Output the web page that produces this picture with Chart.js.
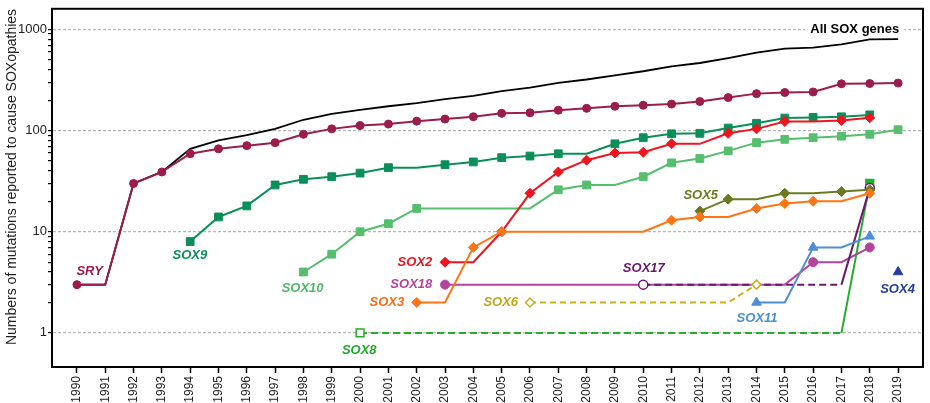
<!DOCTYPE html>
<html><head><meta charset="utf-8">
<script src="https://cdn.jsdelivr.net/npm/chart.js@4.4.1/dist/chart.umd.min.js"></script>
<style>html,body{margin:0;padding:0;background:#fff}#wrap{width:930px;height:403px}</style>
</head><body><div id="wrap"><canvas id="c" width="930" height="403"></canvas></div>
<script>
// ---- data ----
const years = [1990,1991,1992,1993,1994,1995,1996,1997,1998,1999,2000,2001,2002,2003,2004,2005,2006,2007,2008,2009,2010,2011,2012,2013,2014,2015,2016,2017,2018,2019];
const yMajorTicks = [1,10,100,1000];
const yMinorTicks = [2,3,4,5,6,7,8,9,20,30,40,50,60,70,80,90,200,300,400,500,600,700,800,900];
const yTitle = 'Numbers of mutations reported to cause SOXopathies';

const allSoxStart = 1990;
const allSox = [3,3,30,39,66,80,90,104,128,146,160,174,187,205,220,246,266,297,320,352,386,431,466,521,590,646,661,713,797,803];
const sryStart = 1990;
const sry = [3,3,30,39,59,66,71,76,92,104,112,116,124,130,137,148,150,159,166,174,178,183,194,212,232,238,241,290,292,295];
const sox9Start = 1994;
const sox9 = [8,14,18,29,33,35,38,43,43,46,49,54,56,59,59,74,85,93,94,106,118,133,135,137,143];
const sox10Start = 1998;
const sox10 = [4,6,10,12,17,17,17,17,17,26,29,29,35,48,53,63,76,82,85,88,92,102];
const sox2Start = 2003;
const sox2 = [5,5,10,24,39,51,60,61,74,74,94,104,123,123,126,134];
const sox3Start = 2002;
const sox3 = [2,2,7,10,10,10,10,10,10,13,14,14,17,19,20,20,24];
const sox5Start = 2012;
const sox5 = [16,21,21,24,24,25,26];
const sox18Start = 2003;
const sox18 = [3,3,3,3,3,3,3,3,3,3,3,3,3,5,5,7];
const sox17Start = 2010;
const sox17 = [3,3,3,3,3,3,3,3,27];
const sox6Start = 2006;
const sox6 = [2,2,2,2,2,2,2,2,3];
const sox8Start = 2000;
const sox8 = [1,1,1,1,1,1,1,1,1,1,1,1,1,1,1,1,1,1,30];
const sox11Start = 2014;
const sox11 = [2,2,7,7,9];
const sox4Start = 2019;
const sox4 = [4];

// ---- helpers ----
const FONT = "'Liberation Sans', Arial, sans-serif";
function pts(start, vals){ return vals.map((v,i)=>({x:start+i, y:v})); }
function changeRadius(r){
  return ctx => { const d = ctx.dataset.data; const i = ctx.dataIndex; return (i===0 || d[i].y !== d[i-1].y) ? r : 0; };
}
function series(label, start, vals, color, style, r, extra){
  return Object.assign({
    label, data: pts(start, vals), borderColor: color, backgroundColor: color,
    pointBackgroundColor: color, pointBorderColor: color,
    borderWidth: 2, pointStyle: style, pointRadius: changeRadius(r), pointBorderWidth: 1,
    tension: 0, fill: false
  }, extra || {});
}
function dashUntilLast(dash){
  return { borderDash: ctx => (ctx.p1DataIndex === ctx.chart.data.datasets[ctx.datasetIndex].data.length - 1) ? [] : dash };
}

const C = {
  all:'#000000', sry:'#9c1c4c', sox9:'#0b8f5a', sox10:'#55bf6e', sox2:'#f0141e', sox3:'#ff7415',
  sox5:'#6b7a20', sox18:'#b3449e', sox17:'#6b176f', sox6:'#c9b021', sox8:'#22b02a', sox11:'#4d8fd6', sox4:'#25409c'
};

const datasets = [
  series('SOX4', sox4Start, sox4, C.sox4, 'triangle', 5.5, {showLine:false}),
  series('SOX11', sox11Start, sox11, C.sox11, 'triangle', 5.5),
  series('SOX3', sox3Start, sox3, C.sox3, 'rectRot', 5),
  series('SOX5', sox5Start, sox5, C.sox5, 'rectRot', 5),
  series('SOX6', sox6Start, sox6, C.sox6, 'rectRot', 4.5, {borderDash:[6,4], pointBackgroundColor:'#fff', pointBorderWidth:1.5}),
  series('SOX17', sox17Start, sox17, C.sox17, 'circle', 4.5, {segment: dashUntilLast([7,4]), pointBackgroundColor:'#fff', pointBorderWidth:1.5}),
  series('SOX18', sox18Start, sox18, C.sox18, 'circle', 4.5),
  series('SOX8', sox8Start, sox8, C.sox8, 'rect', 5.5, {segment: dashUntilLast([7,4]), pointBackgroundColor: ctx => ctx.dataIndex===0 ? '#fff' : C.sox8, pointBorderWidth:1.5}),
  series('SOX2', sox2Start, sox2, C.sox2, 'rectRot', 5),
  series('SOX10', sox10Start, sox10, C.sox10, 'rect', 5.5),
  series('SOX9', sox9Start, sox9, C.sox9, 'rect', 5.5),
  series('SRY', sryStart, sry, C.sry, 'circle', 4),
  {label:'All SOX genes', data: pts(allSoxStart, allSox), borderColor:C.all, borderWidth:1.8, pointRadius:0, tension:0, fill:false}
];

// text labels anchored in data space
const seriesLabels = [
  {text:'SRY', x:1990.45, y:4.05, color:'#9c1c4c', align:'center'},
  {text:'SOX9', x:1993.99, y:5.8, color:'#0b8f5a', align:'center'},
  {text:'SOX10', x:1997.97, y:2.76, color:'#50b86a', align:'center'},
  {text:'SOX2', x:2002.55, y:4.98, color:'#e8141e', align:'right'},
  {text:'SOX18', x:2002.55, y:3.0, color:'#b3449e', align:'right'},
  {text:'SOX3', x:2001.56, y:1.99, color:'#ff6a15', align:'right'},
  {text:'SOX6', x:2005.58, y:1.99, color:'#bfa81e', align:'right'},
  {text:'SOX8', x:1999.97, y:0.672, color:'#22a82a', align:'center'},
  {text:'SOX17', x:2010.02, y:4.32, color:'#6b176f', align:'center'},
  {text:'SOX5', x:2012.03, y:22.9, color:'#6b7a20', align:'center'},
  {text:'SOX11', x:2014.02, y:1.38, color:'#4d8fd6', align:'center'},
  {text:'SOX4', x:2018.98, y:2.70, color:'#25409c', align:'center'}
];
const allLabel = {text:'All SOX genes', x:2019.04, y:1000, color:'#000'};

const labelPlugin = {
  id:'labels',
  afterDatasetsDraw(chart){
    const {ctx, scales:{x, y}} = chart;
    ctx.save();
    ctx.textBaseline = 'middle';
    ctx.font = `italic bold 13px ${FONT}`;
    seriesLabels.forEach(l => {
      ctx.fillStyle = l.color; ctx.textAlign = l.align;
      ctx.fillText(l.text, x.getPixelForValue(l.x), y.getPixelForValue(l.y));
    });
    ctx.font = `bold 13px ${FONT}`;
    const px = x.getPixelForValue(allLabel.x), py = y.getPixelForValue(allLabel.y);
    const w = ctx.measureText(allLabel.text).width;
    ctx.fillStyle = '#fff';
    ctx.fillRect(px - w - 5, py - 8, w + 10, 16);
    ctx.fillStyle = allLabel.color; ctx.textAlign = 'right';
    ctx.fillText(allLabel.text, px, py);
    ctx.restore();
  }
};
const framePlugin = {
  id:'frame',
  afterDraw(chart){
    const {ctx, chartArea:a} = chart;
    ctx.save(); ctx.strokeStyle = '#000'; ctx.lineWidth = 2;
    ctx.strokeRect(a.left, a.top, a.right - a.left, a.bottom - a.top);
    // y-axis title
    ctx.translate(12, 177); ctx.rotate(-Math.PI/2);
    ctx.font = `14px ${FONT}`; ctx.fillStyle = '#222'; ctx.textAlign = 'center'; ctx.textBaseline = 'middle';
    ctx.fillText(yTitle, 0, 0);
    ctx.restore();
  }
};

new Chart(document.getElementById('c'), {
  type:'line',
  data:{ datasets },
  options:{
    responsive:false, animation:false, devicePixelRatio:1, events:[],
    layout:{padding:{top:3, right:4, left:0, bottom:0}},
    plugins:{legend:{display:false}, tooltip:{enabled:false}},
    scales:{
      x:{
        type:'linear', min:1989.12, max:2019.88, bounds:'data',
        afterBuildTicks: s => { s.ticks = years.map(v => ({value:v})); },
        afterFit: s => { s.height = 36; },
        ticks:{ callback: v => String(v), minRotation:90, maxRotation:90, autoSkip:false, padding:3,
          font:{family:FONT, size:12}, color:'#222' },
        grid:{ drawOnChartArea:false, tickLength:6, tickColor:'#000', tickWidth:1.5, color:'#000' },
        border:{ color:'#000', width:2 }
      },
      y:{
        type:'logarithmic', min:0.46, max:1600, bounds:'data',
        afterBuildTicks: s => { s.ticks = [...yMinorTicks, ...yMajorTicks].sort((a,b)=>a-b).map(v => ({value:v})); },
        afterFit: s => { s.width = 52; },
        ticks:{ callback: v => yMajorTicks.includes(v) ? String(v) : '', autoSkip:false, padding:1,
          font:{family:FONT, size:13}, color:'#222' },
        grid:{ color: c => (c.tick && yMajorTicks.includes(c.tick.value)) ? '#b8b8b8' : 'rgba(0,0,0,0)',
          tickColor:'#000', tickLength:4, lineWidth:1.2 },
        border:{ color:'#000', width:2, dash:[3,2] },
        title:{ display:false }
      }
    }
  },
  plugins:[labelPlugin, framePlugin]
});
</script></body></html>
